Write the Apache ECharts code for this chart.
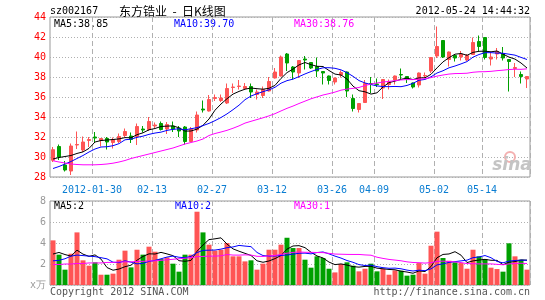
<!DOCTYPE html>
<html><head><meta charset="utf-8">
<script src="https://cdn.jsdelivr.net/npm/echarts@6/dist/echarts.min.js"></script>
<style>html,body{margin:0;padding:0;background:#fff}#c{width:545px;height:300px}</style>
</head><body><div id="c"></div>
<script>
const dates = ['2012-01-12','2012-01-13','2012-01-16','2012-01-17','2012-01-18','2012-01-19','2012-01-20',
'2012-01-30','2012-01-31','2012-02-01','2012-02-02','2012-02-03','2012-02-06','2012-02-07','2012-02-08','2012-02-09','2012-02-10',
'2012-02-13','2012-02-14','2012-02-15','2012-02-16','2012-02-17','2012-02-20','2012-02-21','2012-02-22','2012-02-23','2012-02-24',
'2012-02-27','2012-02-28','2012-02-29','2012-03-01','2012-03-02','2012-03-05','2012-03-06','2012-03-07','2012-03-08','2012-03-09',
'2012-03-12','2012-03-13','2012-03-14','2012-03-15','2012-03-16','2012-03-19','2012-03-20','2012-03-21','2012-03-22','2012-03-23',
'2012-03-26','2012-03-27','2012-03-28','2012-03-29','2012-03-30','2012-04-05','2012-04-06',
'2012-04-09','2012-04-10','2012-04-11','2012-04-12','2012-04-13','2012-04-16','2012-04-17','2012-04-18','2012-04-19','2012-04-20',
'2012-05-02','2012-05-03','2012-05-04','2012-05-07','2012-05-08','2012-05-09','2012-05-10','2012-05-11',
'2012-05-14','2012-05-15','2012-05-16','2012-05-17','2012-05-18','2012-05-21','2012-05-22','2012-05-23'];

const opens  = [29.67,31.05,29.2,28.6,31.2,30.7,31.65,32.0,31.65,31.85,
31.45,31.55,32.15,32.1,32.05,32.8,32.75,33.1,33.35,32.8,
33.1,32.9,33.0,31.55,32.7,34.8,34.6,35.85,35.65,35.4,
36.95,37.05,36.85,37.05,36.25,36.15,36.6,37.9,38.1,40.3,
39.0,38.4,39.8,39.45,39.05,38.55,38.1,37.5,38.2,38.5,
35.85,34.75,35.45,37.35,37.3,36.9,37.25,37.7,38.25,38.05,
37.4,37.2,38.1,38.6,40.1,41.65,39.75,40.15,40.0,39.7,
40.25,41.55,41.95,39.8,40.3,40.3,39.75,38.85,38.25,37.8];
const closes = [30.73,30.0,28.7,31.1,31.25,31.5,31.75,31.9,31.85,31.5,
31.75,32.05,32.55,31.75,33.05,32.7,33.55,33.2,32.75,33.25,
32.8,32.6,31.55,32.8,34.2,34.7,35.75,35.95,35.9,36.85,
37.0,37.1,37.05,36.5,36.5,36.75,37.55,38.5,40.0,39.4,
38.5,39.65,39.7,38.9,38.6,38.4,37.65,37.9,38.45,36.6,
34.85,35.35,37.35,37.3,37.25,37.75,37.55,38.1,38.2,37.85,
37.0,38.4,38.15,39.95,41.05,40.0,40.5,39.9,40.3,40.15,
41.45,41.05,39.95,40.0,40.55,39.9,39.55,38.95,38.05,38.05];
const lows   = [29.5,29.7,28.55,28.2,30.8,30.5,31.0,31.45,31.05,30.75,
30.85,31.4,32.0,31.4,31.2,32.45,32.6,32.9,32.65,32.3,
32.5,32.0,31.25,31.5,32.45,34.45,34.55,35.6,35.5,35.3,
36.4,36.75,36.75,35.9,35.75,35.9,36.55,37.85,38.05,38.6,
37.75,37.9,38.75,38.8,38.0,37.25,37.25,37.25,37.95,36.0,
34.55,34.45,35.4,36.4,37.0,35.8,36.75,37.25,37.75,37.4,
36.85,36.95,37.9,38.4,39.9,39.9,39.05,39.55,39.65,39.6,
40.2,40.55,39.75,39.15,39.75,39.65,36.55,38.0,37.35,36.9];
const highs  = [31.0,31.25,29.6,31.35,32.55,32.05,32.0,32.5,31.9,32.0,
31.95,32.35,32.85,32.45,33.35,33.1,34.0,33.45,33.55,33.5,
33.55,33.1,33.1,33.0,34.55,35.65,36.2,36.25,36.25,37.35,
37.35,37.7,37.4,37.35,36.75,37.05,38.0,38.9,40.15,40.4,
39.1,39.7,40.1,39.5,39.95,38.6,38.15,37.95,38.65,38.55,
36.25,35.4,37.7,38.0,37.85,37.8,37.75,38.15,38.85,38.1,
37.45,38.45,38.45,40.0,43.05,41.7,40.55,40.3,40.6,40.3,
41.95,42.15,42.0,40.5,40.9,41.0,39.75,39.4,38.55,38.1];
const volumes = [4.25,2.89,1.46,2.98,5.01,2.35,1.84,2.16,0.98,0.98,
1.08,2.41,3.27,1.68,3.36,2.89,3.65,3.17,2.47,2.63,
2.03,1.27,2.89,2.89,6.98,5.01,3.84,3.27,3.36,4.0,
2.73,2.73,2.25,2.35,1.46,2.03,3.36,3.36,3.84,4.5,
3.52,3.52,2.41,1.65,2.73,2.57,1.55,1.2,2.0,2.16,
1.84,1.3,1.55,2.03,1.3,1.55,0.98,1.39,1.36,0.89,
0.98,2.09,1.08,3.74,5.08,2.57,2.31,2.16,2.09,1.55,
3.36,2.73,2.47,1.65,1.52,1.27,3.97,2.73,2.41,1.46];

// moving-average values at the left edge (their windows start before the visible range)
const priceMa5Head  = [29.8,29.95,30.05,30.15];
const priceMa10Head = [28.85,29.05,29.3,29.55,29.85,30.15,30.5,30.8,31.0];
const priceMa30Head = [29.62,29.5,29.4,29.3,29.25,29.22,29.22,29.22,29.25,29.3,
29.38,29.5,29.65,29.85,30.0,30.15,30.3,30.45,30.6,30.75,
30.9,31.1,31.3,31.45,31.6,31.8,32.15,32.35,32.5];
const volMa5Head  = [2.95,3.1,2.9,2.75];
const volMa10Head = [2.3,2.35,2.5,2.75,2.85,2.8,2.75,2.7,2.6];
const volMa30Head = [1.95,1.95,2.0,2.0,2.05,2.05,2.1,2.1,2.1,2.15,
2.15,2.2,2.2,2.2,2.25,2.25,2.3,2.3,2.35,2.4,
2.45,2.5,2.55,2.6,2.7,2.72,2.75,2.75,2.78];

const tickDates  = ['2012-01-30','2012-02-13','2012-02-27','2012-03-12','2012-03-26','2012-04-09','2012-05-02','2012-05-14'];
const tickLabels = ['2012-01-30','02-13','02-27','03-12','03-26','04-09','05-02','05-14'];
const priceLegend = ['MA5:38.85','MA10:39.70','MA30:38.76'];
const volLegend = ['MA5:2','MA10:2','MA30:1'];

function movingAvg(arr, n, head) {
  return arr.map((v, i) => {
    if (i < head.length) return head[i];
    let s = 0; for (let k = i - n + 1; k <= i; k++) s += arr[k];
    return +(s / n).toFixed(3);
  });
}

const RED = '#ff5555', GREEN = '#00a000';
const mono = '"DejaVu Sans Mono","Liberation Mono",monospace';
const F = '10px ' + mono;
const ohlc = dates.map((d, i) => [opens[i], closes[i], lows[i], highs[i]]);
const volData = volumes.map((v, i) => ({value: v, itemStyle: {color: closes[i] >= opens[i] ? RED : GREEN}}));
const isTick = (i) => tickDates.indexOf(dates[i]) >= 0;
const vSplit = {show: true, interval: (i) => isTick(i), lineStyle: {color: '#b0b0b0', type: [5, 3], width: 1}};
const hSplit = {show: true, lineStyle: {color: '#b0b0b0', type: [1, 2], width: 1}};

const chart = echarts.init(document.getElementById('c'));
const lineS = (name, data, color, xi, yi) => ({type: 'line', name, data, xAxisIndex: xi, yAxisIndex: yi,
  symbol: 'none', lineStyle: {color, width: 1}, itemStyle: {color}, z: 5, silent: true});
const txt = (x, y, text, fill, extra) => ({type: 'text', x, y, style: Object.assign({text, fill, font: F, verticalAlign: 'middle'}, extra || {})});

chart.setOption({
  animation: false,
  grid: [
    {left: 50, top: 17, width: 480, height: 160, show: true, borderColor: '#999', borderWidth: 1},
    {left: 50, top: 201, width: 480, height: 84, show: true, borderColor: '#999', borderWidth: 1}
  ],
  xAxis: [
    {type: 'category', gridIndex: 0, data: dates, boundaryGap: true,
     axisLine: {show: false}, axisTick: {show: false},
     axisLabel: {interval: (i) => isTick(i), formatter: (v) => tickLabels[tickDates.indexOf(v)],
       color: '#0a7dd2', fontFamily: mono, fontSize: 10, margin: 8, padding: [0, 6, 0, 0]},
     splitLine: vSplit},
    {type: 'category', gridIndex: 1, data: dates, boundaryGap: true,
     axisLine: {show: false}, axisTick: {show: false}, axisLabel: {show: false}, splitLine: vSplit}
  ],
  yAxis: [
    {type: 'value', gridIndex: 0, min: 28, max: 44, interval: 2,
     axisLine: {show: false}, axisTick: {show: false},
     axisLabel: {color: '#ff0000', fontFamily: mono, fontSize: 10, margin: 4}, splitLine: hSplit},
    {type: 'value', gridIndex: 1, min: 0, max: 8, interval: 2,
     axisLine: {show: false}, axisTick: {show: false},
     axisLabel: {color: '#999', fontFamily: mono, fontSize: 10, margin: 4, formatter: (v) => v === 0 ? 'x万' : v},
     splitLine: hSplit}
  ],
  series: [
    {type: 'candlestick', data: ohlc, xAxisIndex: 0, yAxisIndex: 0, barWidth: 4,
     itemStyle: {color: RED, color0: GREEN, borderColor: RED, borderColor0: GREEN, borderWidth: 1}, z: 3},
    lineS('MA5', movingAvg(closes, 5, priceMa5Head), '#000000', 0, 0),
    lineS('MA10', movingAvg(closes, 10, priceMa10Head), '#0000ff', 0, 0),
    lineS('MA30', movingAvg(closes, 30, priceMa30Head), '#ff00ff', 0, 0),
    {type: 'bar', data: volData, xAxisIndex: 1, yAxisIndex: 1, barWidth: 5, z: 3},
    lineS('VMA5', movingAvg(volumes, 5, volMa5Head), '#000000', 1, 1),
    lineS('VMA10', movingAvg(volumes, 10, volMa10Head), '#0000ff', 1, 1),
    lineS('VMA30', movingAvg(volumes, 30, volMa30Head), '#ff00ff', 1, 1)
  ],
  graphic: [
    txt(50, 11, 'sz002167', '#000'),
    {type: 'text', x: 119, y: 11, style: {text: '东方锆业  -  日K线图', fill: '#000', font: '12px "Noto Sans CJK SC"', verticalAlign: 'middle'}},
    txt(530, 11, '2012-05-24 14:44:32', '#000', {align: 'right'}),
    txt(54, 24, priceLegend[0], '#000'),
    txt(174, 24, priceLegend[1], '#0000ff'),
    txt(294, 24, priceLegend[2], '#ff00ff'),
    txt(54, 206, volLegend[0], '#000'),
    txt(175, 206, volLegend[1], '#0000ff'),
    txt(294, 206, volLegend[2], '#ff00ff'),
    txt(50, 292, 'Copyright 2012 SINA.COM', '#555'),
    txt(530, 292, 'http://finance.sina.com.cn', '#555', {align: 'right'}),
    {type: 'circle', shape: {cx: 510, cy: 157, r: 5}, style: {fill: 'none', stroke: '#f4b0b0', lineWidth: 2}, z: 1},
    {type: 'text', x: 512, y: 166, style: {text: 'sina', fill: '#c4c4c4', font: 'italic bold 17px "DejaVu Sans"', align: 'center', verticalAlign: 'middle'}, z: 1}
  ]
});
</script></body></html>
